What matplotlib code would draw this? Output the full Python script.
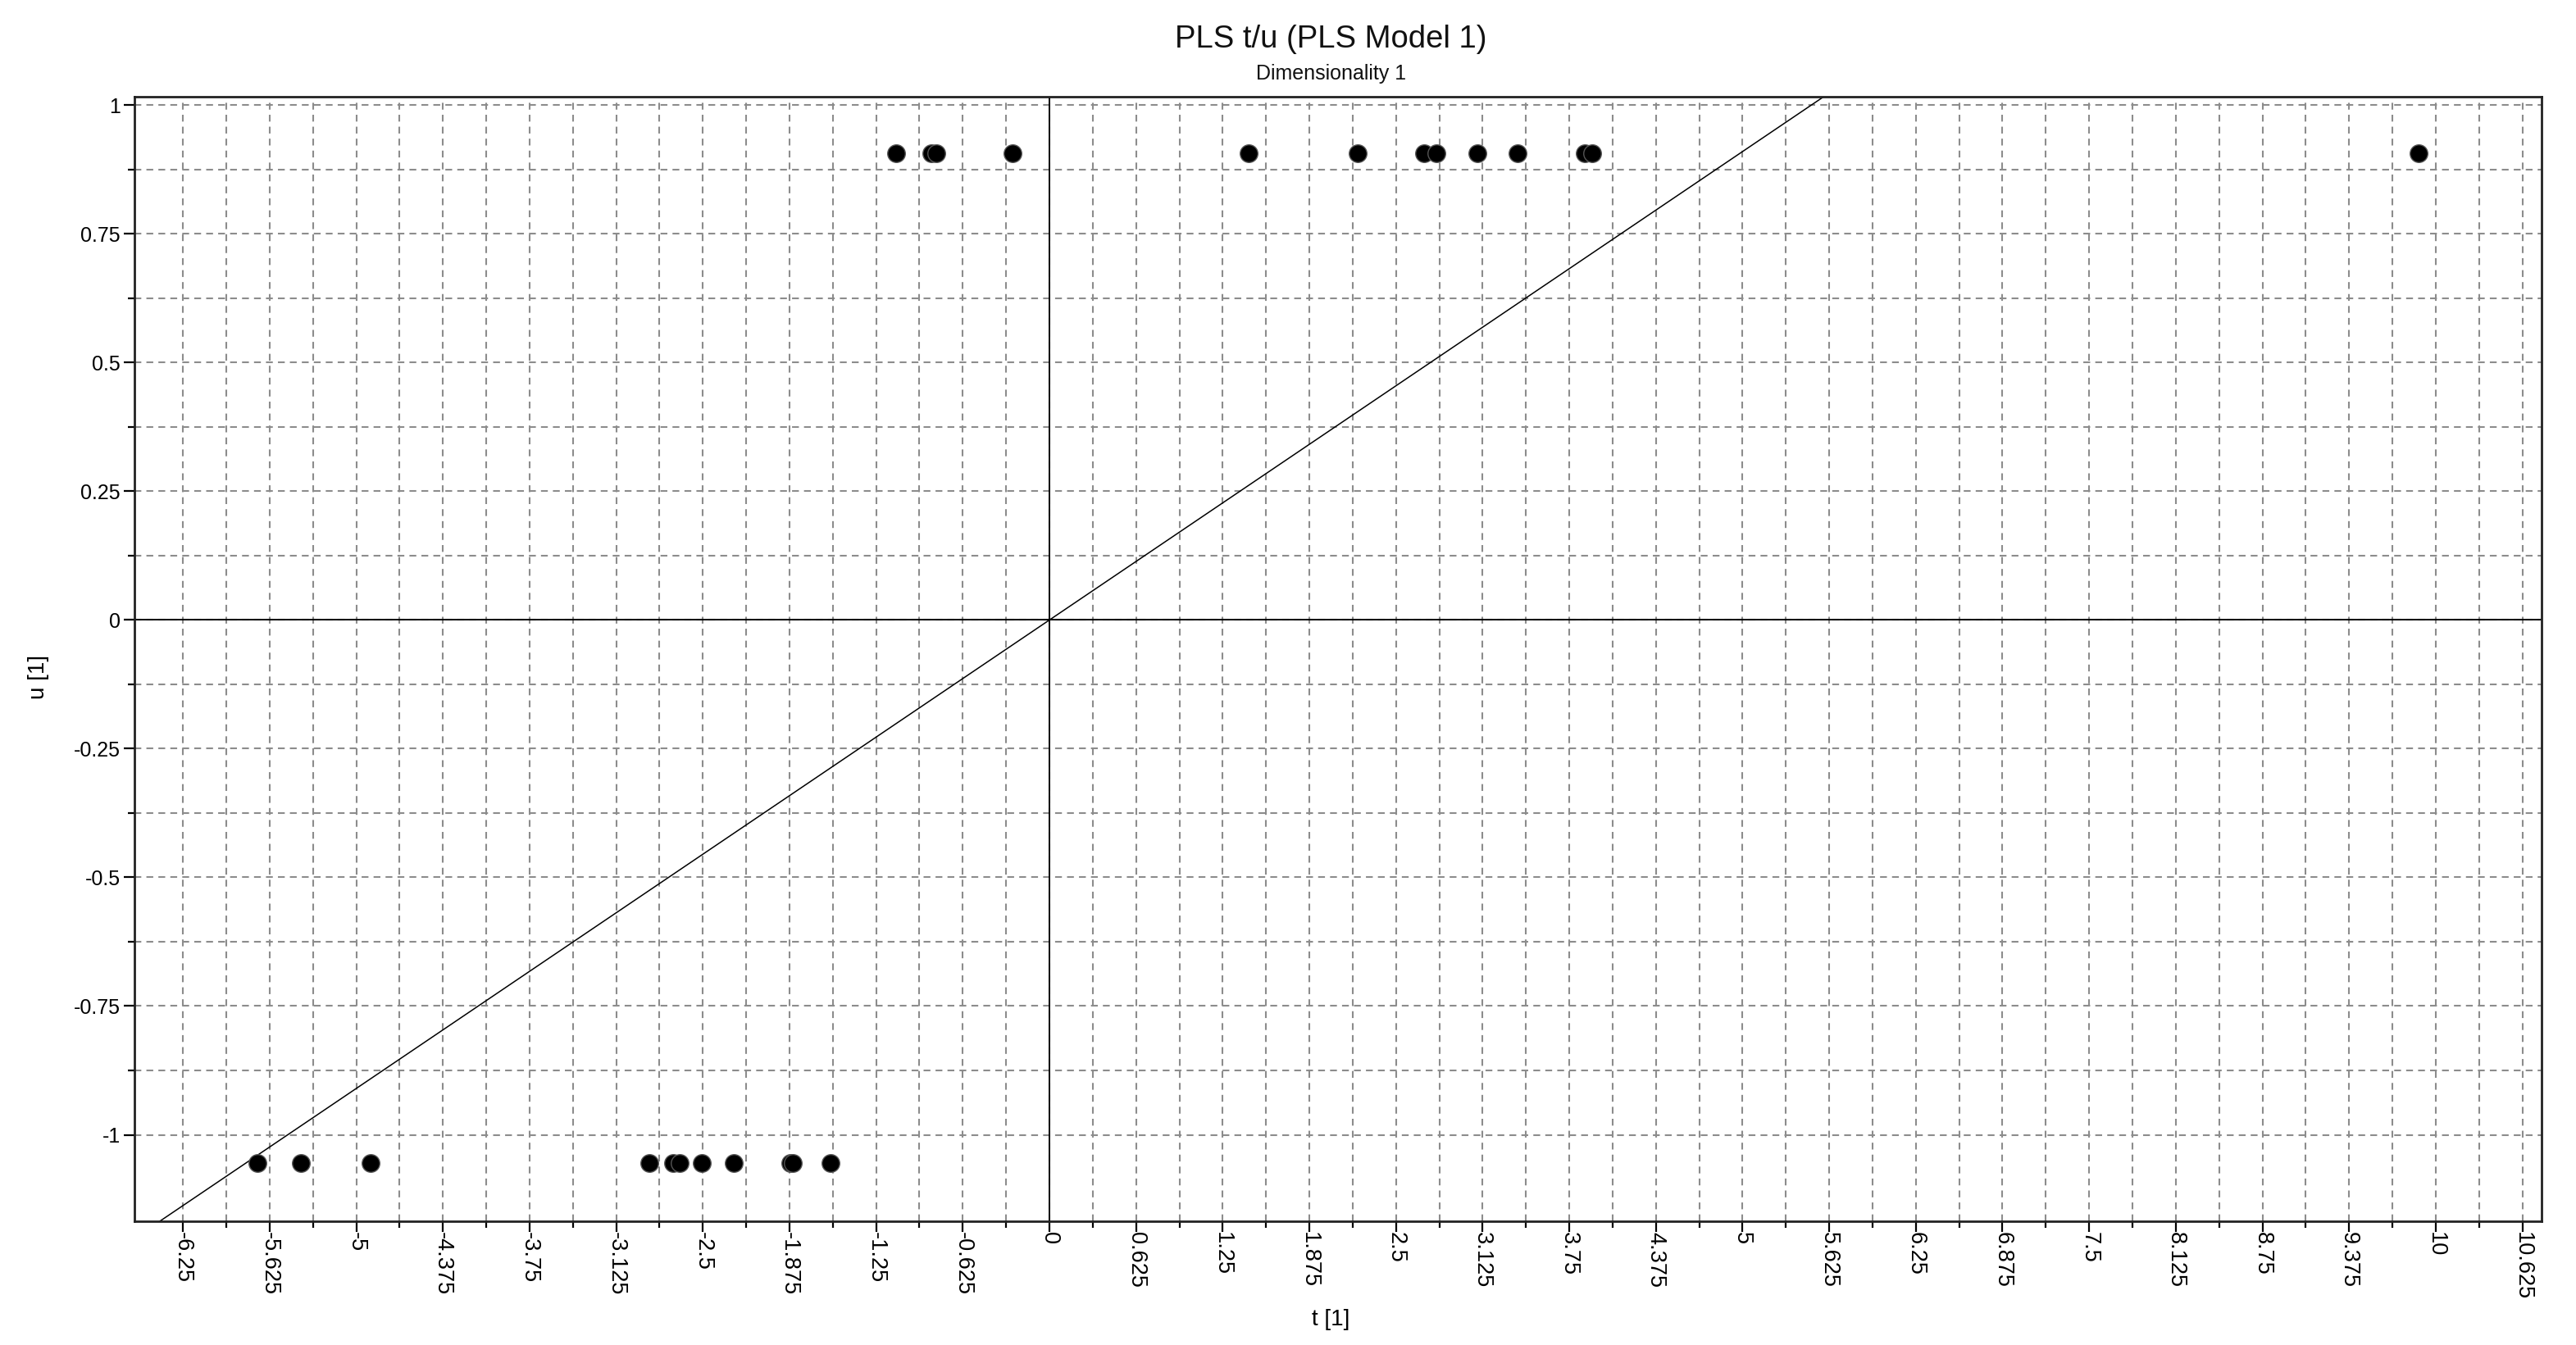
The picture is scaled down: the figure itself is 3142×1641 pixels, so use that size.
import matplotlib
matplotlib.use("Agg")
import matplotlib.pyplot as plt
import numpy as np

# === Scores ===
t_upper = [-1.106, -0.852, -0.816, -0.266, 1.435, 2.221, 2.703, 2.789,
           3.087, 3.377, 3.862, 3.918, 9.876]
u_upper = [0.906] * len(t_upper)

t_lower = [-5.714, -5.397, -4.899, -2.887, -2.712, -2.667, -2.510,
           -2.274, -1.867, -1.851, -1.580]
u_lower = [-1.055] * len(t_lower)

fit_slope = 0.182

x_ticks = [-6.25, -5.625, -5, -4.375, -3.75, -3.125, -2.5, -1.875, -1.25,
           -0.625, 0, 0.625, 1.25, 1.875, 2.5, 3.125, 3.75, 4.375, 5,
           5.625, 6.25, 6.875, 7.5, 8.125, 8.75, 9.375, 10, 10.625]
x_labels = ["-6.25", "-5.625", "-5", "-4.375", "-3.75", "-3.125", "-2.5",
            "-1.875", "-1.25", "-0.625", "0", "0.625", "1.25", "1.875",
            "2.5", "3.125", "3.75", "4.375", "5", "5.625", "6.25", "6.875",
            "7.5", "8.125", "8.75", "9.375", "10", "10.625"]
y_ticks = [-1, -0.75, -0.5, -0.25, 0, 0.25, 0.5, 0.75, 1]
y_labels = ["-1", "-0.75", "-0.5", "-0.25", "0", "0.25", "0.5", "0.75", "1"]

plt.rcParams['font.family'] = ['Liberation Sans', 'DejaVu Sans']
plt.rcParams['lines.scale_dashes'] = False

fig = plt.figure(figsize=(31.42, 16.41), dpi=100)
ax = fig.add_axes([0.0522, 0.0920, 0.9344, 0.8359])

ax.set_xlim(-6.60, 10.763)
ax.set_ylim(-1.168, 1.016)

# === Ticks ===
ax.set_xticks(x_ticks)
ax.set_xticklabels(x_labels, rotation=-90, fontsize=19.5)
ax.set_yticks(y_ticks)
ax.set_yticklabels(y_labels, fontsize=18)
ax.set_xticks(np.array(x_ticks[:-1]) + 0.3125, minor=True)
ax.set_yticks(np.array(y_ticks[:-1]) + 0.125, minor=True)
ax.tick_params(which='major', length=9.5, width=1.6, color='black')
ax.tick_params(which='minor', length=5.5, width=1.6, color='black')
ax.tick_params(axis='x', which='major', pad=0)
ax.tick_params(axis='y', which='major', pad=3)

# === Grid (both major and minor) ===
ax.grid(True, which='both', color='#8c8c8c', linewidth=1.5,
        linestyle=(0, (6, 4.5)))
ax.set_axisbelow(True)

for s in ax.spines.values():
    s.set_linewidth(2.0)
    s.set_color('#222222')

# === Zero axes and fitted line ===
ax.axhline(0, color='black', linewidth=1.4, zorder=2)
ax.axvline(0, color='black', linewidth=1.4, zorder=2)
ax.axline((0, 0), slope=fit_slope, color='black', linewidth=1.1, zorder=2)

# === Points ===
ax.plot(t_upper, u_upper, 'o', color='black', markersize=15.5,
        markeredgecolor='#555555', markeredgewidth=1.0, zorder=3)
ax.plot(t_lower, u_lower, 'o', color='black', markersize=15.5,
        markeredgecolor='#555555', markeredgewidth=1.0, zorder=3)

# === Titles and labels ===
fig.text(0.5166, 0.9647, "PLS t/u (PLS Model 1)", fontsize=27.5,
         ha='center', va='baseline', color='#111111')
fig.text(0.5166, 0.9410, "Dimensionality 1", fontsize=18,
         ha='center', va='baseline', color='#111111')
fig.text(0.5166, 1 - 1610 / 1641, "t [1]", fontsize=20,
         ha='center', va='center')
fig.text(47 / 3142, 1 - 826 / 1641, "u [1]", fontsize=20,
         ha='center', va='center', rotation=90)

fig.savefig("out.png", dpi=100, facecolor='white')
